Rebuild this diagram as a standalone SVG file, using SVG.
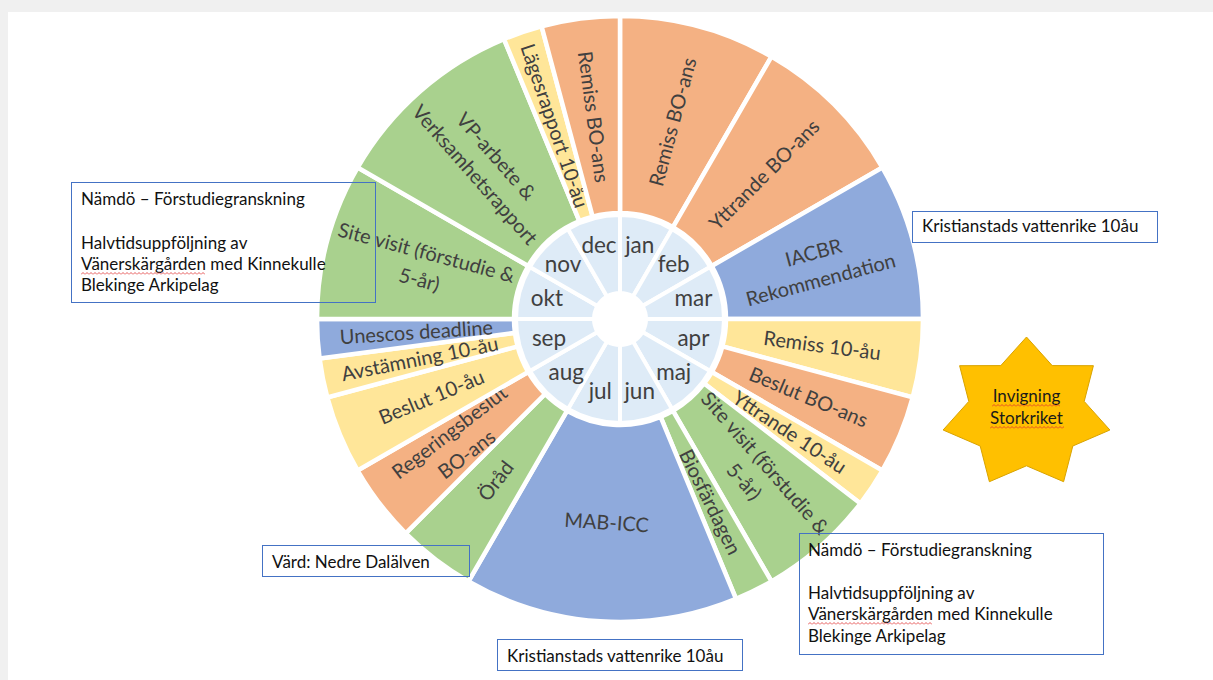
<svg xmlns="http://www.w3.org/2000/svg" width="1213" height="680" viewBox="0 0 1213 680">
<style>
.sec{stroke:#fff;stroke-width:4.5}
.or{fill:#F4B183}.gr{fill:#A9D18E}.bl{fill:#8FAADC}.ye{fill:#FFE699}
.mo{fill:#DEEBF7;stroke:#fff;stroke-width:4}
.lbl{font-family:Lato,"Open Sans",sans-serif;font-size:20px;fill:#404040;text-anchor:middle}
.mlbl{font-family:Lato,"Open Sans",sans-serif;font-size:22.5px;fill:#404040;text-anchor:middle}
.box{fill:none;stroke:#4472C4;stroke-width:1}
.bt{font-family:Lato,"Open Sans",sans-serif;font-size:17px;fill:#111}
.stt{font-family:Lato,"Open Sans",sans-serif;font-size:17px;fill:#1a1a1a;text-anchor:middle}
</style>
<defs>
<pattern id="wavy" width="4" height="3" patternUnits="userSpaceOnUse"><path d="M0,2.5 L2,0.5 L4,2.5" fill="none" stroke="#E03030" stroke-width="0.8"/></pattern>
</defs>
<rect width="1213" height="680" fill="#F0F0F0"/>
<rect x="8" y="12" width="1205" height="668" fill="#FFFFFF"/>

<g id="wheel">
<g id="s-remiss-bo-jan"><path class="sec or" d="M620,16 A303,303 0 0 1 771.5,56.6 L673,227.2 A106,106 0 0 0 620,213 Z"/><text class="lbl" transform="translate(672.8,121.9) rotate(-75)" y="7">Remiss BO-ans</text></g>
<g id="s-yttrande-bo"><path class="sec or" d="M771.5,56.6 A303,303 0 0 1 882.4,167.5 L711.8,266 A106,106 0 0 0 673,227.2 Z"/><text class="lbl" transform="translate(764.2,174.8) rotate(-45)" y="7">Yttrande BO-ans</text></g>
<g id="s-iacbr"><path class="sec bl" d="M882.4,167.5 A303,303 0 0 1 923,319 L726,319 A106,106 0 0 0 711.8,266 Z"/><text class="lbl" transform="translate(817.1,266.2) rotate(-15)"><tspan x="0" y="-7">IACBR</tspan><tspan x="0" y="21">Rekommendation</tspan></text></g>
<g id="s-remiss-10"><path class="sec ye" d="M923,319 A303,303 0 0 1 912.7,397.4 L722.4,346.4 A106,106 0 0 0 726,319 Z"/><text class="lbl" transform="translate(822.2,345.6) rotate(7.5)" y="7">Remiss 10-åu</text></g>
<g id="s-beslut-bo"><path class="sec or" d="M912.7,397.4 A303,303 0 0 1 882.4,470.5 L711.8,372 A106,106 0 0 0 722.4,346.4 Z"/><text class="lbl" transform="translate(808.5,397.1) rotate(22.5)" y="7">Beslut BO-ans</text></g>
<g id="s-yttrande-10"><path class="sec ye" d="M882.4,470.5 A303,303 0 0 1 860.4,503.5 L704.1,383.5 A106,106 0 0 0 711.8,372 Z"/><text class="lbl" transform="translate(789.6,432.3) rotate(33.75)" y="7">Yttrande 10-åu</text></g>
<g id="s-site-visit-r"><path class="sec gr" d="M860.4,503.5 A303,303 0 0 1 771.5,581.4 L673,410.8 A106,106 0 0 0 704.1,383.5 Z"/><text class="lbl" transform="translate(754.5,472.4) rotate(48.75)"><tspan x="0" y="-7">Site visit (förstudie &amp;</tspan><tspan x="0" y="21">5-år)</tspan></text></g>
<g id="s-biosfar"><path class="sec gr" d="M771.5,581.4 A303,303 0 0 1 736,598.9 L660.6,416.9 A106,106 0 0 0 673,410.8 Z"/><text class="lbl" transform="translate(710.2,502) rotate(63.75)" y="7">Biosfärdagen</text></g>
<g id="s-mab"><path class="sec bl" d="M736,598.9 A303,303 0 0 1 468.5,581.4 L567,410.8 A106,106 0 0 0 660.6,416.9 Z"/><text class="lbl" transform="translate(606.7,522.6) rotate(3.75)" y="7">MAB-ICC</text></g>
<g id="s-orad"><path class="sec gr" d="M468.5,581.4 A303,303 0 0 1 405.7,533.3 L545,394 A106,106 0 0 0 567,410.8 Z"/><text class="lbl" transform="translate(495.8,480.9) rotate(-52.5)" y="7">Öråd</text></g>
<g id="s-regering"><path class="sec or" d="M405.7,533.3 A303,303 0 0 1 357.6,470.5 L528.2,372 A106,106 0 0 0 545,394 Z"/><text class="lbl" transform="translate(458.1,443.2) rotate(-37.5)"><tspan x="0" y="-7">Regeringsbeslut</tspan><tspan x="0" y="21">BO-ans</tspan></text></g>
<g id="s-beslut-10"><path class="sec ye" d="M357.6,470.5 A303,303 0 0 1 327.3,397.4 L517.6,346.4 A106,106 0 0 0 528.2,372 Z"/><text class="lbl" transform="translate(431.5,397.1) rotate(-22.5)" y="7">Beslut 10-åu</text></g>
<g id="s-avstamning"><path class="sec ye" d="M327.3,397.4 A303,303 0 0 1 319.6,358.5 L514.9,332.8 A106,106 0 0 0 517.6,346.4 Z"/><text class="lbl" transform="translate(419.9,358.8) rotate(-11.25)" y="7">Avstämning 10-åu</text></g>
<g id="s-unesco"><path class="sec bl" d="M319.6,358.5 A303,303 0 0 1 317,319 L514,319 A106,106 0 0 0 514.9,332.8 Z"/><text class="lbl" transform="translate(416.4,332.3) rotate(-3.75)" y="7">Unescos deadline</text></g>
<g id="s-site-visit-l"><path class="sec gr" d="M317,319 A303,303 0 0 1 357.6,167.5 L528.2,266 A106,106 0 0 0 514,319 Z"/><text class="lbl" transform="translate(422.9,266.2) rotate(15)"><tspan x="0" y="-7">Site visit (förstudie &amp;</tspan><tspan x="0" y="21">5-år)</tspan></text></g>
<g id="s-vp"><path class="sec gr" d="M357.6,167.5 A303,303 0 0 1 504,39.1 L579.4,221.1 A106,106 0 0 0 528.2,266 Z"/><text class="lbl" transform="translate(485.5,165.6) rotate(48.75)"><tspan x="0" y="-7">VP-arbete &amp;</tspan><tspan x="0" y="21">Verksamhetsrapport</tspan></text></g>
<g id="s-lages"><path class="sec ye" d="M504,39.1 A303,303 0 0 1 541.6,26.3 L592.6,216.6 A106,106 0 0 0 579.4,221.1 Z"/><text class="lbl" transform="translate(554.4,125.8) rotate(71.25)" y="7">Lägesrapport 10-åu</text></g>
<g id="s-remiss-bo-dec"><path class="sec or" d="M541.6,26.3 A303,303 0 0 1 620,16 L620,213 A106,106 0 0 0 592.6,216.6 Z"/><text class="lbl" transform="translate(593.4,116.8) rotate(82.5)" y="7">Remiss BO-ans</text></g>
</g>

<g id="months">
<g id="m-jan"><path class="mo" d="M620,215 A104,104 0 0 1 672,228.9 L633,296.5 A26,26 0 0 0 620,293 Z"/><text class="mlbl" x="639.7" y="252.6">jan</text></g>
<g id="m-feb"><path class="mo" d="M672,228.9 A104,104 0 0 1 710.1,267 L642.5,306 A26,26 0 0 0 633,296.5 Z"/><text class="mlbl" x="673.7" y="272.3">feb</text></g>
<g id="m-mar"><path class="mo" d="M710.1,267 A104,104 0 0 1 724,319 L646,319 A26,26 0 0 0 642.5,306 Z"/><text class="mlbl" x="693.4" y="306.3">mar</text></g>
<g id="m-apr"><path class="mo" d="M724,319 A104,104 0 0 1 710.1,371 L642.5,332 A26,26 0 0 0 646,319 Z"/><text class="mlbl" x="693.4" y="345.7">apr</text></g>
<g id="m-maj"><path class="mo" d="M710.1,371 A104,104 0 0 1 672,409.1 L633,341.5 A26,26 0 0 0 642.5,332 Z"/><text class="mlbl" x="673.7" y="379.7">maj</text></g>
<g id="m-jun"><path class="mo" d="M672,409.1 A104,104 0 0 1 620,423 L620,345 A26,26 0 0 0 633,341.5 Z"/><text class="mlbl" x="639.7" y="399.4">jun</text></g>
<g id="m-jul"><path class="mo" d="M620,423 A104,104 0 0 1 568,409.1 L607,341.5 A26,26 0 0 0 620,345 Z"/><text class="mlbl" x="600.3" y="399.4">jul</text></g>
<g id="m-aug"><path class="mo" d="M568,409.1 A104,104 0 0 1 529.9,371 L597.5,332 A26,26 0 0 0 607,341.5 Z"/><text class="mlbl" x="566.3" y="379.7">aug</text></g>
<g id="m-sep"><path class="mo" d="M529.9,371 A104,104 0 0 1 516,319 L594,319 A26,26 0 0 0 597.5,332 Z"/><text class="mlbl" x="549" y="345.7">sep</text></g>
<g id="m-okt"><path class="mo" d="M516,319 A104,104 0 0 1 529.9,267 L597.5,306 A26,26 0 0 0 594,319 Z"/><text class="mlbl" x="547" y="306.3">okt</text></g>
<g id="m-nov"><path class="mo" d="M529.9,267 A104,104 0 0 1 568,228.9 L607,296.5 A26,26 0 0 0 597.5,306 Z"/><text class="mlbl" x="563" y="272.3">nov</text></g>
<g id="m-dec"><path class="mo" d="M568,228.9 A104,104 0 0 1 620,215 L620,293 A26,26 0 0 0 607,296.5 Z"/><text class="mlbl" x="599" y="252.6">dec</text></g>
</g>

<g id="callout-left">
<rect class="box" x="71.5" y="182.5" width="304" height="120"/>
<text class="bt" x="81" y="205">Nämdö – Förstudiegranskning</text>
<text class="bt" x="81" y="249">Halvtidsuppföljning av</text>
<text class="bt" x="81" y="270">Vänerskärgården med Kinnekulle</text>
<text class="bt" x="81" y="291">Blekinge Arkipelag</text>
<rect x="0" y="0" width="124" height="3" fill="url(#wavy)" transform="translate(81,272)"/>
</g>

<g id="callout-right">
<rect class="box" x="799.5" y="533.5" width="304" height="121"/>
<text class="bt" x="808" y="556">Nämdö – Förstudiegranskning</text>
<text class="bt" x="808" y="599">Halvtidsuppföljning av</text>
<text class="bt" x="808" y="620">Vänerskärgården med Kinnekulle</text>
<text class="bt" x="808" y="642">Blekinge Arkipelag</text>
<rect x="0" y="0" width="124" height="3" fill="url(#wavy)" transform="translate(808,622)"/>
</g>

<g id="callout-kristianstad-top">
<rect class="box" x="912.5" y="211.5" width="245" height="31"/>
<text class="bt" x="922" y="232">Kristianstads vattenrike 10åu</text>
</g>

<g id="callout-kristianstad-bottom">
<rect class="box" x="497.5" y="639.5" width="245" height="31"/>
<text class="bt" x="507" y="662">Kristianstads vattenrike 10åu</text>
</g>

<g id="callout-vard">
<rect class="box" x="262.5" y="545.5" width="207" height="31"/>
<text class="bt" x="272" y="568">Värd: Nedre Dalälven</text>
</g>

<g id="star-invigning">
<polygon points="1026.5,337 1052.2,365.6 1093.4,365.7 1084.2,401.4 1109.9,430 1072.8,446 1063.6,481.7 1026.5,465.8 989.4,481.7 980.2,446 943.1,430 968.8,401.4 959.6,365.7 1000.8,365.6" fill="#FFC000" stroke="#D9A300" stroke-width="1"/>
<text class="stt" x="1026.5" y="402">Invigning</text>
<text class="stt" x="1026.5" y="424">Storkriket</text>
<rect x="0" y="0" width="68" height="3" fill="url(#wavy)" transform="translate(992,404)"/>
<rect x="0" y="0" width="74" height="3" fill="url(#wavy)" transform="translate(990,426)"/>
</g>
</svg>
